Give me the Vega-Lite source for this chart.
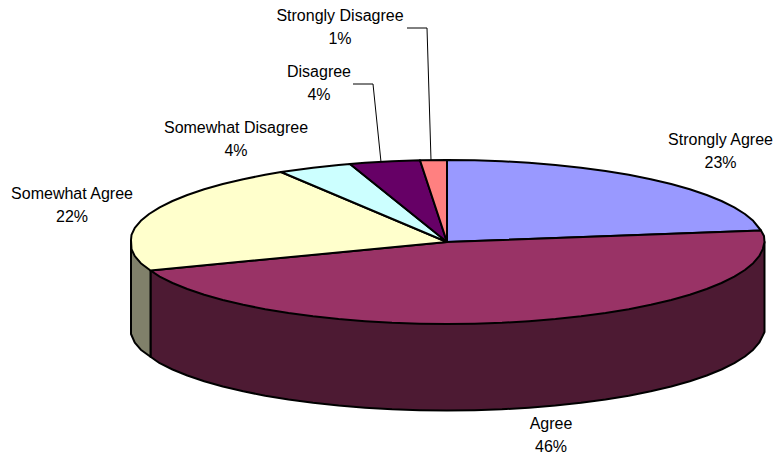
{
"$schema":"https://vega.github.io/schema/vega-lite/v6.json",
"width":778,"height":458,
"autosize":{"type":"fit","contains":"padding"},
"padding":0,
"background":"white",
"view":{"stroke":null},
"datasets":{
"walls":[
{"slice":"Agree wall","i":0,"x":447,"y":242},{"slice":"Agree wall","i":1,"x":764.5,"y":242},{"slice":"Agree wall","i":2,"x":764.5,"y":332},{"slice":"Agree wall","i":3,"x":762.8,"y":335.6},{"slice":"Agree wall","i":4,"x":759.2,"y":342.7},{"slice":"Agree wall","i":5,"x":753.2,"y":349.7},{"slice":"Agree wall","i":6,"x":744.9,"y":356.5},{"slice":"Agree wall","i":7,"x":734.3,"y":363.2},{"slice":"Agree wall","i":8,"x":721.5,"y":369.5},{"slice":"Agree wall","i":9,"x":706.7,"y":375.5},{"slice":"Agree wall","i":10,"x":689.8,"y":381.2},{"slice":"Agree wall","i":11,"x":671.2,"y":386.5},{"slice":"Agree wall","i":12,"x":650.8,"y":391.3},{"slice":"Agree wall","i":13,"x":628.8,"y":395.7},{"slice":"Agree wall","i":14,"x":605.5,"y":399.5},{"slice":"Agree wall","i":15,"x":581,"y":402.8},{"slice":"Agree wall","i":16,"x":555.4,"y":405.6},{"slice":"Agree wall","i":17,"x":529,"y":407.7},{"slice":"Agree wall","i":18,"x":502,"y":409.3},{"slice":"Agree wall","i":19,"x":474.6,"y":410.2},{"slice":"Agree wall","i":20,"x":447,"y":410.5},{"slice":"Agree wall","i":21,"x":419.4,"y":410.2},{"slice":"Agree wall","i":22,"x":392,"y":409.3},{"slice":"Agree wall","i":23,"x":365,"y":407.7},{"slice":"Agree wall","i":24,"x":338.6,"y":405.6},{"slice":"Agree wall","i":25,"x":313,"y":402.8},{"slice":"Agree wall","i":26,"x":288.5,"y":399.5},{"slice":"Agree wall","i":27,"x":265.2,"y":395.7},{"slice":"Agree wall","i":28,"x":243.2,"y":391.3},{"slice":"Agree wall","i":29,"x":222.8,"y":386.5},{"slice":"Agree wall","i":30,"x":204.2,"y":381.2},{"slice":"Agree wall","i":31,"x":187.3,"y":375.5},{"slice":"Agree wall","i":32,"x":172.5,"y":369.5},{"slice":"Agree wall","i":33,"x":159.7,"y":363.2},{"slice":"Agree wall","i":34,"x":150.5,"y":356.7},{"slice":"Agree wall","i":35,"x":150.5,"y":270.5},{"slice":"Agree wall","i":36,"x":447,"y":242},
{"slice":"Somewhat Agree wall","i":0,"x":131,"y":240},{"slice":"Somewhat Agree wall","i":1,"x":131,"y":334},{"slice":"Somewhat Agree wall","i":2,"x":134.8,"y":342.7},{"slice":"Somewhat Agree wall","i":3,"x":140.8,"y":349.7},{"slice":"Somewhat Agree wall","i":4,"x":150.5,"y":356.7},{"slice":"Somewhat Agree wall","i":5,"x":150.5,"y":270.5},{"slice":"Somewhat Agree wall","i":6,"x":131,"y":240}
],
"top":[
{"slice":"Strongly Agree","i":0,"x":447,"y":242},{"slice":"Strongly Agree","i":1,"x":447,"y":160},{"slice":"Strongly Agree","i":2,"x":474.6,"y":160.3},{"slice":"Strongly Agree","i":3,"x":502,"y":161.2},{"slice":"Strongly Agree","i":4,"x":529,"y":162.8},{"slice":"Strongly Agree","i":5,"x":555.4,"y":164.9},{"slice":"Strongly Agree","i":6,"x":581,"y":167.7},{"slice":"Strongly Agree","i":7,"x":605.5,"y":171},{"slice":"Strongly Agree","i":8,"x":628.8,"y":174.8},{"slice":"Strongly Agree","i":9,"x":650.8,"y":179.2},{"slice":"Strongly Agree","i":10,"x":671.2,"y":184},{"slice":"Strongly Agree","i":11,"x":689.8,"y":189.3},{"slice":"Strongly Agree","i":12,"x":706.7,"y":195},{"slice":"Strongly Agree","i":13,"x":721.5,"y":201},{"slice":"Strongly Agree","i":14,"x":734.3,"y":207.3},{"slice":"Strongly Agree","i":15,"x":744.9,"y":214},{"slice":"Strongly Agree","i":16,"x":753.2,"y":220.8},{"slice":"Strongly Agree","i":17,"x":761,"y":230.5},{"slice":"Strongly Agree","i":18,"x":447,"y":242},
{"slice":"Agree","i":0,"x":447,"y":242},{"slice":"Agree","i":1,"x":761,"y":230.5},{"slice":"Agree","i":2,"x":764,"y":236},{"slice":"Agree","i":3,"x":764.5,"y":242},{"slice":"Agree","i":4,"x":762.8,"y":249.1},{"slice":"Agree","i":5,"x":759.2,"y":256.2},{"slice":"Agree","i":6,"x":753.2,"y":263.2},{"slice":"Agree","i":7,"x":744.9,"y":270},{"slice":"Agree","i":8,"x":734.3,"y":276.7},{"slice":"Agree","i":9,"x":721.5,"y":283},{"slice":"Agree","i":10,"x":706.7,"y":289},{"slice":"Agree","i":11,"x":689.8,"y":294.7},{"slice":"Agree","i":12,"x":671.2,"y":300},{"slice":"Agree","i":13,"x":650.8,"y":304.8},{"slice":"Agree","i":14,"x":628.8,"y":309.2},{"slice":"Agree","i":15,"x":605.5,"y":313},{"slice":"Agree","i":16,"x":581,"y":316.3},{"slice":"Agree","i":17,"x":555.4,"y":319.1},{"slice":"Agree","i":18,"x":529,"y":321.2},{"slice":"Agree","i":19,"x":502,"y":322.8},{"slice":"Agree","i":20,"x":474.6,"y":323.7},{"slice":"Agree","i":21,"x":447,"y":324},{"slice":"Agree","i":22,"x":419.4,"y":323.7},{"slice":"Agree","i":23,"x":392,"y":322.8},{"slice":"Agree","i":24,"x":365,"y":321.2},{"slice":"Agree","i":25,"x":338.6,"y":319.1},{"slice":"Agree","i":26,"x":313,"y":316.3},{"slice":"Agree","i":27,"x":288.5,"y":313},{"slice":"Agree","i":28,"x":265.2,"y":309.2},{"slice":"Agree","i":29,"x":243.2,"y":304.8},{"slice":"Agree","i":30,"x":222.8,"y":300},{"slice":"Agree","i":31,"x":204.2,"y":294.7},{"slice":"Agree","i":32,"x":187.3,"y":289},{"slice":"Agree","i":33,"x":172.5,"y":283},{"slice":"Agree","i":34,"x":159.7,"y":276.7},{"slice":"Agree","i":35,"x":150.5,"y":270.5},{"slice":"Agree","i":36,"x":447,"y":242},
{"slice":"Somewhat Agree","i":0,"x":447,"y":242},{"slice":"Somewhat Agree","i":1,"x":150.5,"y":270.5},{"slice":"Somewhat Agree","i":2,"x":140.8,"y":263.2},{"slice":"Somewhat Agree","i":3,"x":134.8,"y":256.2},{"slice":"Somewhat Agree","i":4,"x":131.5,"y":249.1},{"slice":"Somewhat Agree","i":5,"x":131,"y":240},{"slice":"Somewhat Agree","i":6,"x":131.5,"y":234.9},{"slice":"Somewhat Agree","i":7,"x":134.8,"y":227.8},{"slice":"Somewhat Agree","i":8,"x":140.8,"y":220.8},{"slice":"Somewhat Agree","i":9,"x":149.1,"y":214},{"slice":"Somewhat Agree","i":10,"x":159.7,"y":207.3},{"slice":"Somewhat Agree","i":11,"x":172.5,"y":201},{"slice":"Somewhat Agree","i":12,"x":187.3,"y":195},{"slice":"Somewhat Agree","i":13,"x":204.2,"y":189.3},{"slice":"Somewhat Agree","i":14,"x":222.8,"y":184},{"slice":"Somewhat Agree","i":15,"x":243.2,"y":179.2},{"slice":"Somewhat Agree","i":16,"x":265.2,"y":174.8},{"slice":"Somewhat Agree","i":17,"x":281,"y":172},{"slice":"Somewhat Agree","i":18,"x":447,"y":242},
{"slice":"Somewhat Disagree","i":0,"x":447,"y":242},{"slice":"Somewhat Disagree","i":1,"x":281,"y":172},{"slice":"Somewhat Disagree","i":2,"x":313,"y":167.7},{"slice":"Somewhat Disagree","i":3,"x":338.6,"y":164.9},{"slice":"Somewhat Disagree","i":4,"x":350,"y":164},{"slice":"Somewhat Disagree","i":5,"x":447,"y":242},
{"slice":"Disagree","i":0,"x":447,"y":242},{"slice":"Disagree","i":1,"x":350,"y":164},{"slice":"Disagree","i":2,"x":365,"y":162.8},{"slice":"Disagree","i":3,"x":392,"y":161.2},{"slice":"Disagree","i":4,"x":420,"y":160.3},{"slice":"Disagree","i":5,"x":447,"y":242},
{"slice":"Strongly Disagree","i":0,"x":447,"y":242},{"slice":"Strongly Disagree","i":1,"x":420,"y":160.3},{"slice":"Strongly Disagree","i":2,"x":447,"y":160},{"slice":"Strongly Disagree","i":3,"x":447,"y":242}
],
"leaders":[
{"slice":"Strongly Disagree","i":0,"x":407,"y":28},{"slice":"Strongly Disagree","i":1,"x":427,"y":28},{"slice":"Strongly Disagree","i":2,"x":431,"y":160},
{"slice":"Disagree","i":0,"x":353,"y":84},{"slice":"Disagree","i":1,"x":373,"y":84},{"slice":"Disagree","i":2,"x":381,"y":162}
],
"labels":[
{"label":"Strongly Agree\n23%","x":720.5,"y":140},
{"label":"Agree\n46%","x":551,"y":424},
{"label":"Somewhat Agree\n22%","x":72,"y":194},
{"label":"Somewhat Disagree\n4%","x":236,"y":128},
{"label":"Disagree\n4%","x":319,"y":72},
{"label":"Strongly Disagree\n1%","x":340,"y":16}
]
},
"encoding":{
"x":{"field":"x","type":"quantitative","axis":null,"scale":{"domain":[0,778],"range":[0,778],"nice":false,"zero":false}},
"y":{"field":"y","type":"quantitative","axis":null,"scale":{"domain":[0,458],"range":[0,458],"nice":false,"zero":false}}
},
"layer":[
{"data":{"name":"walls"},
"mark":{"type":"line","stroke":"#000000","strokeWidth":2,"strokeJoin":"round"},
"encoding":{"order":{"field":"i","type":"quantitative"},"detail":{"field":"slice"},
"fill":{"field":"slice","type":"nominal","legend":null,"scale":{"domain":["Strongly Agree","Agree","Somewhat Agree","Somewhat Disagree","Disagree","Strongly Disagree","Agree wall","Somewhat Agree wall"],"range":["#9999ff","#993366","#ffffcc","#ccffff","#660066","#ff8080","#4d1a33","#80806a"]}}}},
{"data":{"name":"top"},
"mark":{"type":"line","stroke":"#000000","strokeWidth":2,"strokeJoin":"round"},
"encoding":{"order":{"field":"i","type":"quantitative"},"detail":{"field":"slice"},
"fill":{"field":"slice","type":"nominal","legend":null}}},
{"data":{"name":"leaders"},
"mark":{"type":"line","stroke":"#000000","strokeWidth":1},
"encoding":{"order":{"field":"i","type":"quantitative"},"detail":{"field":"slice"}}},
{"data":{"name":"labels"},
"mark":{"type":"text","font":"Liberation Sans","fontSize":16,"lineBreak":"\n","lineHeight":22.5,"align":"center","baseline":"middle","color":"#000000"},
"encoding":{"text":{"field":"label"}}}
]
}
